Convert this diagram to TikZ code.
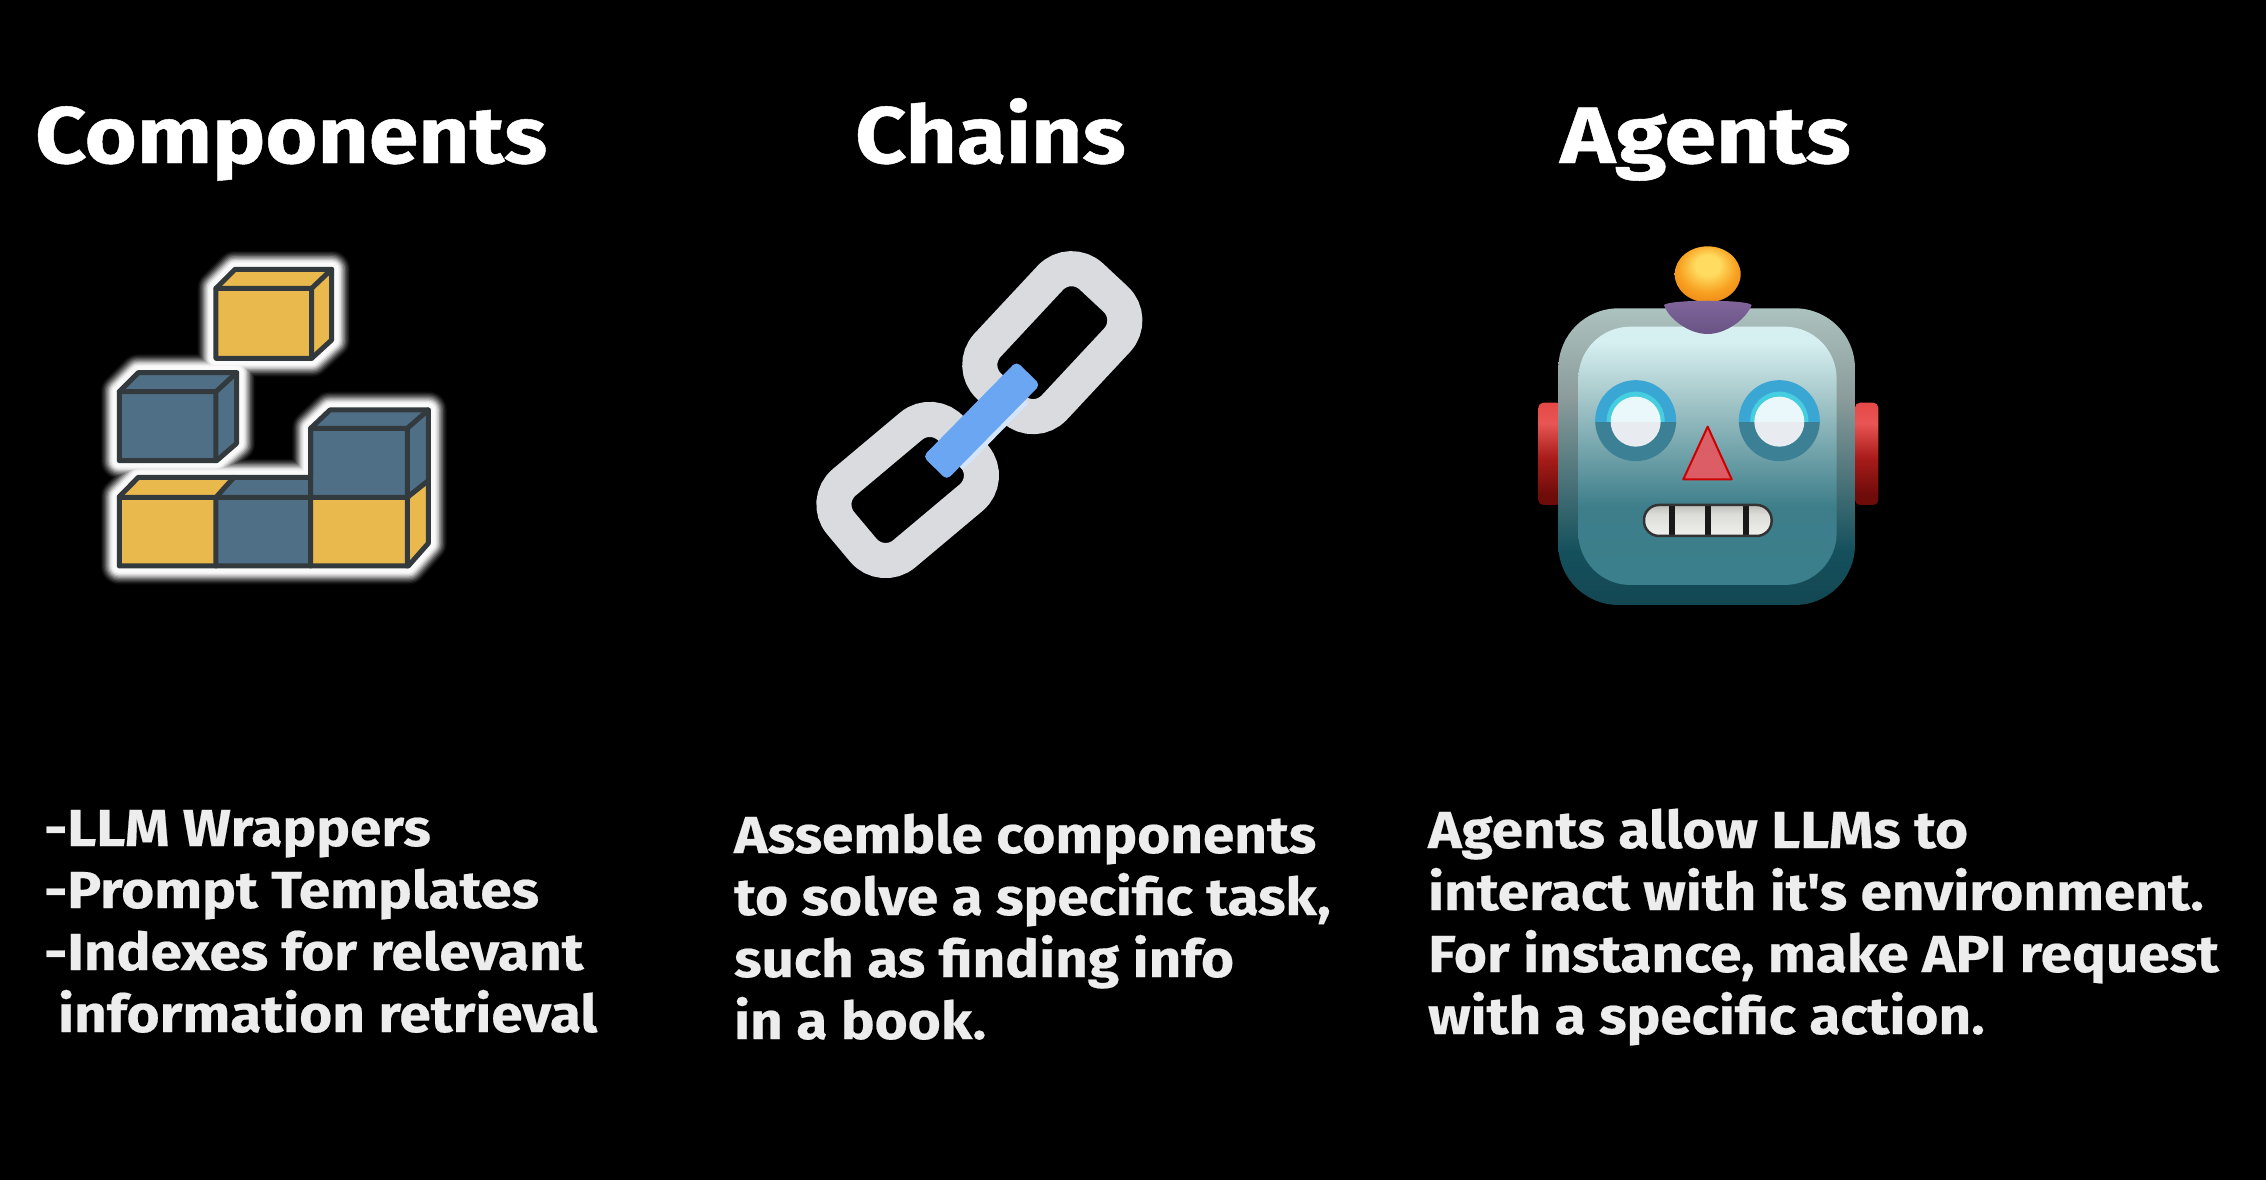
\documentclass[tikz,border=0pt]{standalone}
\usepackage{fontspec}
\setmainfont{Fira Sans}
\newfontfamily\headfont{Fira Sans Bold}[FakeBold=0.6,FakeStretch=1.115]
\newfontfamily\bodyfont{Fira Sans Bold}[FakeBold=0.4,FakeStretch=1.09]
\definecolor{blockY}{HTML}{E9B94E}
\definecolor{blockB}{HTML}{4F6F87}
\definecolor{blockK}{HTML}{333A3D}
\definecolor{linkG}{HTML}{DADBDF}
\definecolor{linkB}{HTML}{6BA6F3}
\definecolor{txt}{HTML}{EDEDED}
\definecolor{rimA}{HTML}{123842}
\definecolor{rimB}{HTML}{14505C}
\definecolor{rimC}{HTML}{8B9C9B}
\definecolor{rimD}{HTML}{B3CAC6}
\definecolor{faA}{HTML}{3B7F8C}
\definecolor{faB}{HTML}{3D7E8A}
\definecolor{faC}{HTML}{A9CACC}
\definecolor{faD}{HTML}{D6EFF0}
\definecolor{faE}{HTML}{DCF3F2}
\definecolor{earA}{HTML}{6E0C0A}
\definecolor{earB}{HTML}{A81C1A}
\definecolor{earC}{HTML}{E85555}
\definecolor{earD}{HTML}{DC2A20}
\definecolor{ballA}{HTML}{FFDC60}
\definecolor{ballB}{HTML}{F8A020}
\definecolor{ballC}{HTML}{DE6E10}
\definecolor{toothA}{HTML}{DCDCD8}
\definecolor{toothB}{HTML}{8A8A8A}
\definecolor{noseA}{HTML}{D9626A}
\definecolor{noseB}{HTML}{DE5A62}
\definecolor{purA}{HTML}{5C4A78}
\definecolor{purB}{HTML}{8D6FA8}
\definecolor{eyeTop}{HTML}{3AA6D4}
\definecolor{eyeIn}{HTML}{45CDE0}
\definecolor{eyeLow}{HTML}{3C8096}
\definecolor{eyeW}{HTML}{EAF8FB}
\definecolor{eyeV}{HTML}{E8ECF0}
\pgfdeclareverticalshading{robotrim}{100bp}{
 color(0bp)=(rimA);color(10bp)=(rimA);color(34bp)=(rimB);color(60bp)=(rimC);color(78bp)=(rimD);color(100bp)=(rimD)}
\pgfdeclareverticalshading{robotface}{100bp}{
 color(0bp)=(faA);color(28bp)=(faA);color(40bp)=(faB);color(62bp)=(faC);color(72bp)=(faD);color(100bp)=(faE)}
\pgfdeclareverticalshading{earshade}{100bp}{
 color(0bp)=(earA);color(30bp)=(earA);color(48bp)=(earB);color(65bp)=(earC);color(100bp)=(earD)}
\pgfdeclareradialshading{ballshade}{\pgfpoint{0bp}{10bp}}{
 color(0bp)=(ballA);color(9bp)=(ballA);color(22bp)=(ballB);color(42bp)=(ballC);color(50bp)=(ballC)}
\pgfdeclareverticalshading{toothshade}{100bp}{
 color(0bp)=(white);color(60bp)=(toothA);color(100bp)=(toothB)}
\pgfdeclareverticalshading{noseshade}{100bp}{
 color(0bp)=(noseB);color(100bp)=(noseA)}
\pgfdeclareverticalshading{purpshade}{100bp}{
 color(0bp)=(purA);color(100bp)=(purB)}
\tikzset{
  heading/.style={anchor=base west,inner sep=0pt,text=white,font=\headfont\fontsize{80}{80}\selectfont},
  bodyline/.style={anchor=base west,inner sep=0pt,text=txt,font=\bodyfont\fontsize{52}{52}\selectfont},
  cubeface/.style={draw=blockK,line width=5pt,line join=round},
  cubeedge/.style={draw=blockK,line width=5pt,line cap=round,line join=round},
  chainlink/.style={draw=linkG,line width=35pt,rounded corners=29pt},
}
\begin{document}
\begin{tikzpicture}[x=1pt,y=-1pt]
\useasboundingbox (0,0) rectangle (2266,1180);
\fill[black] (0,0) rectangle (2266,1180);
% headings
\node[heading] (hcomp) at (35,163) {Components};
\node[heading] (hchain) at (855,163) {Chains};
\node[heading] (hagent) at (1560,163) {\scalebox{1.045}[1]{Agents}};
% body text
\node[bodyline] (c1) at (44,846) {-LLM Wrappers};
\node[bodyline] (c2) at (44,908) {-Prompt Templates};
\node[bodyline] (c3) at (44,970) {-Indexes for relevant};
\node[bodyline] (c4) at (58,1032) {information retrieval};
\node[bodyline] (m1) at (734,853) {Assemble components};
\node[bodyline] (m2) at (734,915) {to solve a specific task,};
\node[bodyline] (m3) at (734,977) {such as finding info};
\node[bodyline] (m4) at (734,1039) {in a book.};
\node[bodyline] (a1) at (1428,848) {Agents allow LLMs to};
\node[bodyline] (a2) at (1428,910) {interact with it{\char39}s environment.};
\node[bodyline] (a3) at (1428,972) {For instance, make API request};
\node[bodyline] (a4) at (1428,1034) {with a specific action.};
% blocks icon (zoom-crop coordinates)
\begin{scope}[shift={(90,240)},x=0.3333pt,y=-0.3333pt]
\def\silh{
  (378,145) -- (435,88) -- (725,88) -- (725,300) -- (665,355) -- (378,355) -- cycle
  (88,455) -- (145,398) -- (440,398) -- (440,610) -- (380,662) -- (88,662) -- cycle
  (88,770) -- (145,712) -- (662,712) -- (662,565) -- (720,510) -- (1015,510) -- (1015,910) -- (955,978) -- (88,978) -- cycle
}
\foreach \w/\g in {112/10,104/30,96/55,88/85,80/120,72/155,64/190,56/220,48/240,40/250}{
  \pgfmathsetmacro{\gg}{\g/2.55}
  \draw[color=white!\gg!black,line width=\w*0.3333pt,line join=round,fill=white!\gg!black] \silh;
}
% top cube
\fill[blockY] (378,145) -- (435,88) -- (725,88) -- (725,300) -- (665,355) -- (378,355) -- cycle;
\path[cubeface] (378,145) -- (435,88) -- (725,88) -- (725,300) -- (665,355) -- (378,355) -- cycle;
\draw[cubeedge] (378,145) -- (665,145) -- (725,88) (665,145) -- (665,355);
% blue cube
\fill[blockB] (88,455) -- (145,398) -- (440,398) -- (440,610) -- (380,662) -- (88,662) -- cycle;
\path[cubeface] (88,455) -- (145,398) -- (440,398) -- (440,610) -- (380,662) -- (88,662) -- cycle;
\draw[cubeedge] (88,455) -- (378,455) -- (440,398) (378,455) -- (378,662);
% base: tall right blue
\fill[blockB] (662,565) -- (720,510) -- (1015,510) -- (1015,720) -- (955,772) -- (662,772) -- cycle;
% middle blue
\fill[blockB] (378,712) -- (662,712) -- (662,978) -- (378,978) -- cycle;
% left yellow
\fill[blockY] (88,770) -- (145,712) -- (425,712) -- (378,770) -- (378,978) -- (88,978) -- cycle;
% right yellow
\fill[blockY] (662,772) -- (955,772) -- (1015,725) -- (1015,910) -- (955,978) -- (662,978) -- cycle;
\path[cubeface] (88,770) -- (145,712) -- (662,712) -- (662,565) -- (720,510) -- (1015,510) -- (1015,910) -- (955,978) -- (88,978) -- cycle;
\draw[cubeedge] (88,772) -- (955,772) (378,772) -- (378,978) (662,565) -- (662,978) (662,565) -- (952,565) -- (1015,510) (952,565) -- (952,978) (952,772) -- (1015,722) (378,772) -- (432,712);
\end{scope}
% chain icon (zoom-crop coordinates)
\begin{scope}[shift={(790,230)},x=0.3333pt,y=-0.3333pt]
\begin{scope}[shift={(787,338)},rotate=47]
  \draw[chainlink] (-225,-137) rectangle (225,137);
\end{scope}
\begin{scope}[shift={(353,780)},rotate=40]
  \draw[chainlink] (-218,-140) rectangle (218,140);
\end{scope}
\begin{scope}[shift={(575,572)},rotate=45.5]
  \fill[white!70!linkB] (-145,30) rectangle (135,64);
  \fill[linkB,rounded corners=5pt] (-200,-50) rectangle (200,50);
\end{scope}
\end{scope}
% robot icon (zoom-crop coordinates)
\begin{scope}[shift={(1520,230)},x=0.3333pt,y=-0.3333pt]
\shade[shading=earshade,rounded corners=5pt] (55,518) rectangle (125,825);
\shade[shading=earshade,rounded corners=5pt] (1005,518) rectangle (1075,825);
\shade[shading=robotrim,rounded corners=60pt] (115,235) rectangle (1005,1125);
\shade[shading=robotface,rounded corners=52pt] (175,290) rectangle (950,1065);
% ball and collar
\shade[shading=ballshade] (563,133) ellipse [x radius=33pt,y radius=28pt];
\shade[shading=purpshade] (432,225) .. controls (450,208) and (680,208) .. (695,225) .. controls (680,265) and (620,312) .. (563,312) .. controls (505,312) and (445,265) .. (432,225) -- cycle;
% eyes
\foreach \cx in {347,778}{
  \begin{scope}
    \clip (\cx-125,450) rectangle (\cx+125,577);
    \fill[eyeTop] (\cx,572) circle [radius=40.5pt];
    \fill[eyeIn] (\cx,572) circle [radius=29pt];
    \fill[eyeW] (\cx,575) circle [radius=25pt];
  \end{scope}
  \begin{scope}
    \clip (\cx-125,577) rectangle (\cx+125,700);
    \fill[eyeLow] (\cx,572) circle [radius=40.5pt];
    \fill[eyeV] (\cx,575) circle [radius=25pt];
  \end{scope}
}
% nose
\shade[shading=noseshade,draw=red!80!black,line width=2pt,line join=round] (563,590) -- (635,748) -- (490,748) -- cycle;
% mouth
\begin{scope}
  \clip[rounded corners=15pt] (372,825) rectangle (755,918);
  \shade[shading=toothshade] (372,825) rectangle (755,918);
  \foreach \tx in {455,563,678}{
    \fill[black!90] (\tx-9,825) rectangle (\tx+9,918);
  }
\end{scope}
\draw[draw=black!80,line width=2.5pt,rounded corners=15pt] (372,825) rectangle (755,918);
\end{scope}
\end{tikzpicture}
\end{document}
